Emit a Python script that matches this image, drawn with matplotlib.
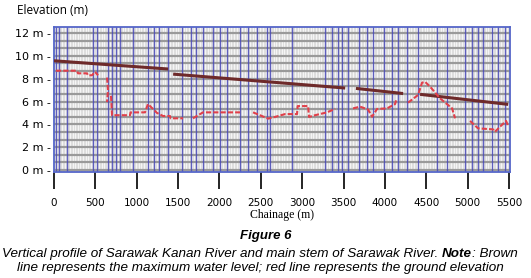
import numpy as np
import matplotlib
matplotlib.use("Agg")
import matplotlib.pyplot as plt

nan = np.nan

# Maximum water level (brown) segments
wl_x = [0, 1380, nan, 1440, 3520, nan, 3650, 4220, nan, 4425, 5490]
wl_y = [9.57, 8.85, nan, 8.40, 7.18, nan, 7.15, 6.70, nan, 6.63, 5.75]

# Ground elevation (red)
ge_x = [24, 278, 290, 399, 410, 459, 496, 532, nan,
        641, 653, 641, nan, 689, 701, 919, 925, 1100, 1136, 1245, 1318, 1402, 1410, 1560, nan,
        1680, 1801, 2249, nan, 2406, 2490, 2587, 2672, 2793, 2938, 2945, 3071, 3083, 3155, 3300, 3397, nan,
        3615, 3700, 3796, 3845, 3905, 4026, 4123, 4135, nan,
        4280, 4400, 4449, 4485, 4546, 4667, 4812, 4848, nan,
        5029, 5126, 5307, 5331, 5392, 5465, 5489]
ge_y = [8.70, 8.70, 8.47, 8.47, 8.30, 8.30, 8.60, 8.30, nan,
        8.10, 7.00, 5.95, nan, 6.50, 4.80, 4.80, 5.05, 5.05, 5.78, 5.00, 4.73, 4.73, 4.53, 4.53, nan,
        4.53, 5.05, 5.05, nan, 5.05, 4.80, 4.50, 4.65, 4.90, 4.90, 5.60, 5.60, 4.65, 4.80, 5.05, 5.35, nan,
        5.40, 5.55, 5.30, 4.67, 5.35, 5.40, 5.78, 6.10, nan,
        5.90, 6.57, 7.65, 7.73, 7.30, 6.28, 5.40, 4.53, nan,
        4.30, 3.65, 3.56, 3.35, 3.80, 4.30, 3.85]

# Cross-section locations (blue vertical lines)
xs_locs = [24, 60, 157, 471, 520, 653, 701, 749, 798, 955, 1136, 1209, 1269, 1378,
           1547, 1656, 1717, 1801, 1922, 2007, 2091, 2248, 2345, 2454, 2575, 2611,
           2877, 3276, 3360, 3433, 3481, 3554, 3687, 3783, 3856, 3989, 4086, 4158,
           4267, 4400, 4630, 4750, 4968, 5053, 5125, 5186, 5295, 5367, 5451]

x_ticks = [0, 500, 1000, 1500, 2000, 2500, 3000, 3500, 4000, 4500, 5000, 5500]
y_ticks = [0, 2, 4, 6, 8, 10, 12]
y_labels = [f"{v} m -" for v in y_ticks]

fig = plt.figure(figsize=(5.31, 2.78), dpi=100)
ax = fig.add_axes([54/531, 1-172/278, 456/531, 145/278])
ax.set_xlim(0, 5512)
ax.set_ylim(-0.175, 12.53)
ax.set_facecolor("#dedede")

# background texture
ax.vlines(np.arange(0, 5512, 32), -1, 13, colors="#f6f6f6", linewidth=0.7, zorder=0)
ax.hlines(np.arange(0, 12.6, 2/3), 0, 5512, colors="#9a9a9a", linewidth=1.6, zorder=0.5)
ax.vlines(xs_locs, -1, 13, colors="#4848b8", linewidth=1.0, alpha=0.85, zorder=1)

ax.plot(wl_x, wl_y, color="#6e2a2a", linewidth=2.2, solid_capstyle="butt", zorder=3)
ax.plot(ge_x, ge_y, color="#e0404a", linewidth=1.5, linestyle=(0, (2.5, 1)), zorder=3)

for s in ax.spines.values():
    s.set_color("#5566c8")
    s.set_linewidth(1.3)

ax.set_yticks(y_ticks)
ax.set_yticklabels(y_labels, fontsize=8, family="DejaVu Sans")
ax.tick_params(axis="y", length=0, pad=2)
ax.set_xticks(x_ticks)
ax.set_xticklabels([str(t) for t in x_ticks], fontsize=7.5, family="DejaVu Sans")
ax.tick_params(axis="x", length=12, width=1.2, color="black", pad=7, direction="out")

fig.text(17/531, 1-10/278, "Elevation (m)", fontsize=8.5, family="Open Sans",
         ha="left", va="center")
fig.text(282/531, 1-215/278, "Chainage (m)", fontsize=8.5, family="Liberation Serif",
         ha="center", va="center")
fig.text(266/531, 1-236/278, "Figure 6", fontsize=9.5, family="Liberation Sans",
         style="italic", weight="bold", ha="center", va="center")

renderer = fig.canvas.get_renderer()

def mixed_line(parts, yc, size, xc):
    texts = []
    for s, w in parts:
        t = fig.text(0, yc, s, fontsize=size, family="Liberation Sans", style="italic",
                     weight=w, ha="left", va="center")
        texts.append(t)
    widths = [t.get_window_extent(renderer).width for t in texts]
    total = sum(widths)
    x0 = (xc - total/2)
    for t, w in zip(texts, widths):
        t.set_x(x0/531)
        x0 += w

mixed_line([("Vertical profile of Sarawak Kanan River and main stem of Sarawak River. ", "normal"),
            ("Note", "bold"), (": Brown", "normal")], 1-254/278, 9.7, 259.5)
mixed_line([("line represents the maximum water level; red line represents the ground elevation", "normal")],
           1-268/278, 9.7, 260.5)

fig.savefig("out.png", dpi=100)
